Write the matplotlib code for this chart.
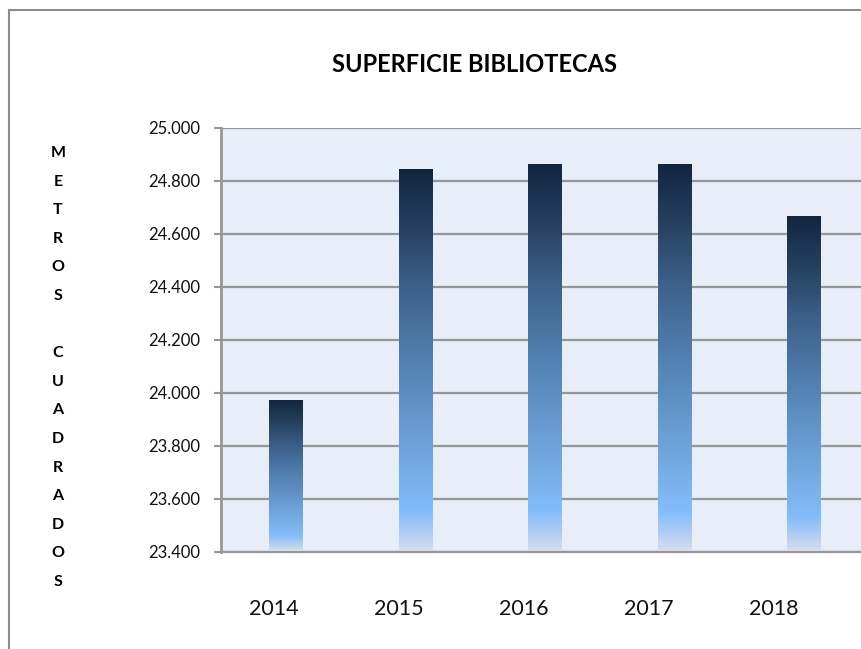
import matplotlib.pyplot as plt
import numpy as np
from matplotlib.colors import LinearSegmentedColormap
from matplotlib.patches import Rectangle
from matplotlib.ticker import FuncFormatter

plt.rcParams['font.family'] = ['Lato', 'DejaVu Sans']

years = ['2014', '2015', '2016', '2017', '2018']
superficie = [23972, 24843, 24862, 24862, 24666]
y_ticks = [23400, 23600, 23800, 24000, 24200, 24400, 24600, 24800, 25000]
titulo = 'SUPERFICIE BIBLIOTECAS'
eje_y = 'METROS CUADRADOS'

W, H = 861, 649
fig = plt.figure(figsize=(W / 100, H / 100), dpi=100)

# outer chart frame (runs off the right and bottom edges)
fig.patches.append(Rectangle((9 / W, -0.1), 2, (H - 10) / H + 0.1,
                             transform=fig.transFigure, fill=False,
                             ec='#8c8c8c', lw=1.5))

ax = fig.add_axes([221 / W, (H - 551.5) / H, 647.5 / W, 424 / H])
ax.set_facecolor('#e8eef7')

grad = LinearSegmentedColormap.from_list('barra', [
    (0.00, '#d3dfee'),
    (0.04, '#b4d0f2'),
    (0.10, '#83bdfa'),
    (0.30, '#6b9fd5'),
    (0.50, '#5280b0'),
    (0.70, '#3b5f88'),
    (0.85, '#25405f'),
    (1.00, '#12253f'),
])

x = np.arange(len(years))
ymin = y_ticks[0]
bars = ax.bar(x, np.array(superficie) - ymin, bottom=ymin, width=0.255,
              color='none', zorder=3)
g = np.linspace(0, 1, 256).reshape(-1, 1)
for b in bars:
    x0, y0 = b.get_x(), b.get_y()
    im = ax.imshow(g, cmap=grad, origin='lower', aspect='auto',
                   extent=[x0, x0 + b.get_width(), y0, y0 + b.get_height()],
                   zorder=3)
    im.set_clip_path(b)

ax.set_xlim(-0.5, len(years) - 0.5)
ax.set_ylim(y_ticks[0], y_ticks[-1])
ax.set_yticks(y_ticks)
ax.yaxis.set_major_formatter(FuncFormatter(lambda v, p: f'{int(v):,}'.replace(',', '.')))
ax.grid(axis='y', color='#969696', lw=1.6, zorder=1)
ax.set_axisbelow(True)

# category labels sit slightly left of the bars, as in the source chart
ax.set_xticks(x * 0.965 - 0.09)
ax.set_xticklabels(years, fontsize=15.5, color='#111111')
ax.tick_params(axis='x', length=0, pad=34)
ax.tick_params(axis='y', length=5, width=1.5, color='#969696', pad=10,
               labelsize=12, labelcolor='#111111')

for s in ['top', 'right']:
    ax.spines[s].set_visible(False)
ax.spines['left'].set_color('#969696')
ax.spines['left'].set_linewidth(2)
ax.spines['bottom'].set_color('#969696')
ax.spines['bottom'].set_linewidth(1.6)

fig.text(475 / W, 1 - 65 / H, titulo, ha='center', va='center',
         fontsize=17, fontweight='bold', color='#000000')

for i, ch in enumerate(eje_y):
    fig.text(58 / W, 1 - (153 + i * 28.6) / H, ch, ha='center', va='center',
             fontsize=11.5, fontweight='bold', color='#000000')

fig.savefig('out.png', dpi=100)
